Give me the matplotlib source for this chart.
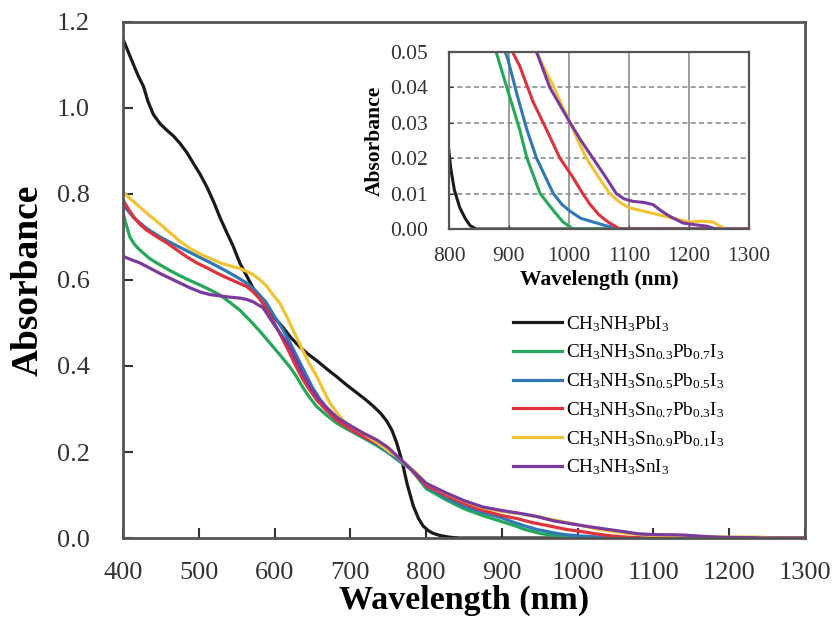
import matplotlib
matplotlib.use('Agg')
import matplotlib.pyplot as plt

plt.rcParams['font.family'] = ['Liberation Serif', 'DejaVu Serif']
plt.rcParams['mathtext.fontset'] = 'custom'
plt.rcParams['mathtext.rm'] = 'Liberation Serif'
plt.rcParams['mathtext.it'] = 'Liberation Serif:italic'
plt.rcParams['mathtext.bf'] = 'Liberation Serif:bold'

# spectra (wavelength nm, absorbance)
wl_pb = [400, 407, 414, 420, 427, 433, 440, 449, 458, 467, 475, 484, 493, 502, 511, 520, 528, 537, 545,
         554, 563, 572, 581, 590, 600, 611, 622, 633, 644, 656, 669, 682, 695, 709, 720, 730, 740, 748,
         755, 761, 768, 775, 783, 790, 796, 803, 809, 818, 827, 835, 845, 900, 1000, 1100, 1200, 1300]
abs_pb = [1.16, 1.13, 1.10, 1.075, 1.05, 1.015, 0.985, 0.963, 0.948, 0.934, 0.918, 0.897, 0.871, 0.845,
          0.815, 0.78, 0.745, 0.71, 0.68, 0.64, 0.61, 0.58, 0.555, 0.532, 0.512, 0.49, 0.465, 0.445,
          0.428, 0.412, 0.393, 0.375, 0.356, 0.337, 0.322, 0.307, 0.29, 0.272, 0.25, 0.222, 0.18, 0.125,
          0.075, 0.045, 0.028, 0.017, 0.011, 0.006, 0.003, 0.001, 0.0, 0.0, 0.0, 0.0, 0.0, 0.0]

wl_sn03 = [400, 404, 409, 415, 422, 435, 449, 462, 475, 488, 502, 515, 528, 541, 554, 568, 581, 594,
           607, 620, 628, 637, 646, 656, 669, 682, 699, 717, 735, 750, 765, 780, 800, 825, 850, 875,
           900, 918, 930, 952, 975, 990, 1007, 1100, 1200, 1300]
abs_sn03 = [0.756, 0.73, 0.70, 0.683, 0.67, 0.65, 0.635, 0.622, 0.61, 0.599, 0.588, 0.577, 0.565, 0.548,
            0.53, 0.505, 0.48, 0.453, 0.426, 0.398, 0.378, 0.351, 0.327, 0.305, 0.285, 0.267, 0.25,
            0.233, 0.215, 0.198, 0.178, 0.16, 0.115, 0.09, 0.068, 0.052, 0.038, 0.028, 0.02, 0.01,
            0.005, 0.002, 0.0, 0.0, 0.0, 0.0]

wl_sn05 = [400, 414, 431, 449, 466, 484, 502, 520, 537, 550, 563, 575, 588, 600, 611, 620, 630, 640,
           650, 660, 672, 686, 700, 717, 735, 750, 765, 780, 800, 825, 850, 875, 898, 915, 930, 946,
           960, 974, 988, 1002, 1020, 1040, 1060, 1085, 1200, 1300]
abs_sn05 = [0.775, 0.745, 0.72, 0.70, 0.684, 0.668, 0.652, 0.636, 0.62, 0.607, 0.593, 0.575, 0.55, 0.515,
            0.485, 0.455, 0.42, 0.385, 0.35, 0.322, 0.295, 0.27, 0.252, 0.235, 0.217, 0.2, 0.18, 0.16,
            0.12, 0.095, 0.074, 0.059, 0.048, 0.037, 0.028, 0.02, 0.015, 0.01, 0.007, 0.005, 0.003,
            0.002, 0.001, 0.0, 0.0, 0.0]

wl_sn07 = [400, 407, 414, 422, 431, 445, 458, 471, 484, 497, 511, 524, 537, 550, 563, 572, 581, 590,
           598, 607, 620, 628, 637, 646, 656, 669, 682, 699, 717, 735, 752, 765, 780, 800, 825, 850,
           875, 900, 918, 940, 960, 985, 1005, 1023, 1035, 1050, 1065, 1085, 1200, 1300]
abs_sn07 = [0.786, 0.765, 0.747, 0.73, 0.716, 0.70, 0.686, 0.67, 0.654, 0.64, 0.628, 0.616, 0.605, 0.595,
            0.585, 0.572, 0.555, 0.53, 0.505, 0.475, 0.43, 0.40, 0.37, 0.345, 0.32, 0.296, 0.274, 0.254,
            0.236, 0.22, 0.205, 0.185, 0.16, 0.122, 0.1, 0.08, 0.064, 0.052, 0.046, 0.036, 0.029, 0.02,
            0.015, 0.01, 0.007, 0.004, 0.002, 0.0, 0.0, 0.0]

wl_sn09 = [400, 403, 412, 422, 435, 449, 462, 475, 488, 502, 515, 528, 541, 554, 563, 572, 581, 590,
           598, 607, 616, 620, 628, 637, 646, 656, 664, 673, 682, 690, 703, 717, 730, 743, 752, 761,
           770, 785, 800, 825, 850, 875, 900, 925, 946, 960, 975, 988, 1002, 1015, 1029, 1048, 1068,
           1085, 1100, 1125, 1150, 1175, 1200, 1220, 1240, 1250, 1260, 1300]
abs_sn09 = [0.805, 0.80, 0.785, 0.77, 0.75, 0.73, 0.71, 0.69, 0.674, 0.66, 0.65, 0.64, 0.633, 0.627,
            0.62, 0.612, 0.60, 0.585, 0.565, 0.546, 0.515, 0.50, 0.47, 0.437, 0.405, 0.375, 0.345,
            0.314, 0.292, 0.274, 0.258, 0.244, 0.228, 0.212, 0.2, 0.19, 0.175, 0.155, 0.128, 0.105,
            0.086, 0.07, 0.062, 0.056, 0.05, 0.045, 0.04, 0.035, 0.03, 0.025, 0.02, 0.015, 0.01, 0.0075,
            0.006, 0.005, 0.004, 0.003, 0.002, 0.0022, 0.002, 0.001, 0.0, 0.0]

wl_sn = [400, 411, 422, 435, 449, 462, 475, 488, 502, 515, 528, 541, 554, 563, 572, 585, 598, 610, 620,
         628, 637, 646, 656, 669, 682, 699, 717, 735, 750, 765, 780, 800, 825, 850, 875, 900, 925, 946,
         968, 985, 1002, 1020, 1040, 1060, 1079, 1092, 1107, 1125, 1140, 1155, 1168, 1190, 1210, 1230,
         1245, 1300]
abs_sn = [0.655, 0.647, 0.64, 0.628, 0.615, 0.604, 0.593, 0.582, 0.572, 0.566, 0.563, 0.56, 0.558, 0.555,
          0.549, 0.535, 0.50, 0.47, 0.445, 0.415, 0.383, 0.355, 0.328, 0.303, 0.281, 0.262, 0.244, 0.228,
          0.21, 0.185, 0.16, 0.127, 0.106, 0.087, 0.072, 0.064, 0.057, 0.05, 0.04, 0.035, 0.03, 0.025,
          0.02, 0.015, 0.01, 0.0085, 0.0078, 0.0075, 0.0069, 0.005, 0.0036, 0.0017, 0.0012, 0.0008,
          0.0, 0.0]

labels = [r'CH$_3$NH$_3$PbI$_3$',
          r'CH$_3$NH$_3$Sn$_{0.3}$Pb$_{0.7}$I$_3$',
          r'CH$_3$NH$_3$Sn$_{0.5}$Pb$_{0.5}$I$_3$',
          r'CH$_3$NH$_3$Sn$_{0.7}$Pb$_{0.3}$I$_3$',
          r'CH$_3$NH$_3$Sn$_{0.9}$Pb$_{0.1}$I$_3$',
          r'CH$_3$NH$_3$SnI$_3$']
colors = ['#1a1a1a', '#25a85a', '#2f78b8', '#e0323c', '#f0c234', '#7b3b9e']
series = [(wl_pb, abs_pb), (wl_sn03, abs_sn03), (wl_sn05, abs_sn05),
          (wl_sn07, abs_sn07), (wl_sn09, abs_sn09), (wl_sn, abs_sn)]

fig = plt.figure(figsize=(8.33, 6.37), dpi=100)
ax = fig.add_axes([0.1477, 0.1554, 0.8187, 0.8101])

for (x, y), c, lab in zip(series, colors, labels):
    ax.plot(x, y, color=c, lw=2.3, label=lab, solid_joinstyle='round')

ax.set_xlim(400, 1300)
ax.set_ylim(0, 1.2)
ax.set_xticks(range(400, 1301, 100))
ax.set_yticks([0.0, 0.2, 0.4, 0.6, 0.8, 1.0, 1.2])
ax.set_yticklabels(['0.0', '0.2', '0.4', '0.6', '0.8', '1.0', '1.2'])
ax.tick_params(direction='in', length=7, width=1.5, labelsize=19, colors='#333333')
ax.tick_params(axis='y', pad=24)
ax.tick_params(axis='x', pad=17)
for s in ax.spines.values():
    s.set_color('#555555')
    s.set_linewidth(2)
ax.set_xlabel('Wavelength (nm)', fontsize=24.5, fontweight='bold', labelpad=1)
ax.set_ylabel('Absorbance', fontsize=27, fontweight='bold', labelpad=8)

ax.legend(loc='upper left', bbox_to_anchor=(513 / 833, 1 - 314 / 637), bbox_transform=fig.transFigure,
          frameon=False, fontsize=13.8, handlelength=2.55, handletextpad=0.2, labelspacing=0.47,
          borderaxespad=0, borderpad=0)

# inset zoom on the band tail
ins = fig.add_axes([0.539, 0.6405, 0.360, 0.2779])
for (x, y), c in zip(series, colors):
    ins.plot(x, y, color=c, lw=2.2, solid_joinstyle='round')
ins.set_xlim(800, 1300)
ins.set_ylim(0, 0.05)
ins.set_xticks(range(800, 1301, 100))
ins.set_yticks([0.0, 0.01, 0.02, 0.03, 0.04, 0.05])
ins.set_yticklabels(['0.00', '0.01', '0.02', '0.03', '0.04', '0.05'])
ins.grid(axis='x', color='#8c8c8c', lw=1.2)
ins.grid(axis='y', color='#8c8c8c', lw=1.2, ls=(0, (3, 2)))
ins.set_axisbelow(True)
ins.tick_params(direction='in', length=3, labelsize=15.5, colors='#333333')
ins.tick_params(axis='y', pad=15)
ins.tick_params(axis='x', pad=13)
for s in ins.spines.values():
    s.set_color('#555555')
    s.set_linewidth(1.6)
ins.set_xlabel('Wavelength (nm)', fontsize=15.5, fontweight='bold', labelpad=3)
ins.set_ylabel('Absorbance', fontsize=15.5, fontweight='bold', labelpad=4)

fig.savefig('out.png', dpi=100)
